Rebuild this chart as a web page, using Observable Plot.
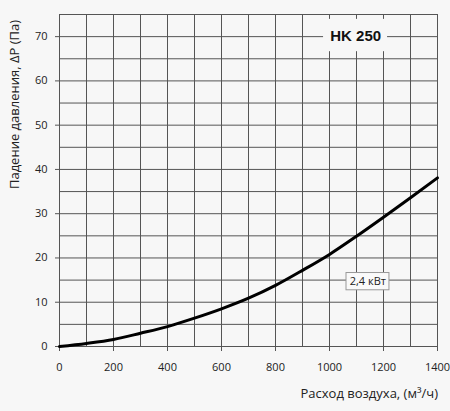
<!DOCTYPE html>
<html>
<head>
<meta charset="utf-8">
<script src="https://cdn.jsdelivr.net/npm/d3@7"></script>
<script src="https://cdn.jsdelivr.net/npm/@observablehq/plot@0.6"></script>
<style>
  html, body { margin: 0; padding: 0; background: #f7f7f7; }
  #chart svg { display: block; }
</style>
</head>
<body>
<div id="chart"></div>
<script>
// Data
const airflow = [0, 100, 200, 300, 400, 500, 600, 700, 800, 900, 1000, 1100, 1200, 1300, 1400];
const pressure = [0, 0.7, 1.6, 3.0, 4.5, 6.4, 8.5, 10.9, 13.8, 17.2, 20.8, 24.9, 29.2, 33.6, 38.1];
const xTicks = [0, 200, 400, 600, 800, 1000, 1200, 1400];
const yTicks = [0, 10, 20, 30, 40, 50, 60, 70];
const xGrid = [0, 100, 200, 300, 400, 500, 600, 700, 800, 900, 1000, 1100, 1200, 1300, 1400];
const yGrid = [0, 5, 10, 15, 20, 25, 30, 35, 40, 45, 50, 55, 60, 65, 70, 75];
const titleLabel = ["HK 250"];
const titleBox = [{x1: 978, x2: 1215, y1: 66.6, y2: 73.9}];
const titlePos = [{x: 1097, y: 70}];
const powerLabel = ["2,4 кВт"];
const powerBox = [{x1: 1063, x2: 1222, y1: 12.7, y2: 16.6}];
const powerPos = [{x: 1142, y: 14.6}];

const data = airflow.map((q, i) => ({q, p: pressure[i]}));
const bg = "#f7f7f7";
const gridColor = "#555";

const chart = Plot.plot({
  width: 450,
  height: 411,
  marginLeft: 59,
  marginRight: 13,
  marginTop: 14,
  marginBottom: 65,
  style: {background: bg, fontFamily: "'Open Sans', sans-serif", fontSize: "11px", color: "#222"},
  x: {domain: [0, 1400], label: null},
  y: {domain: [0, 75], label: null},
  marks: [
    Plot.ruleX(xGrid, {stroke: gridColor, strokeWidth: 1}),
    Plot.ruleY(yGrid, {stroke: gridColor, strokeWidth: 1}),
    Plot.rect(titleBox, {x1: "x1", x2: "x2", y1: "y1", y2: "y2", fill: bg}),
    Plot.text(titlePos, {x: "x", y: "y", text: () => titleLabel[0], fontWeight: "bold", fontSize: 15, fill: "#111", fontFamily: "'Liberation Sans', Arial, sans-serif"}),
    Plot.axisX({ticks: xTicks, tickFormat: d => String(d), tickSize: 5, tickPadding: 12, stroke: gridColor, fill: "#222", fontSize: 11}),
    Plot.axisY({ticks: yTicks, tickFormat: d => String(d), tickSize: 4, tickPadding: 8, stroke: gridColor, fill: "#222", fontSize: 11}),
    Plot.line(data, {x: "q", y: "p", stroke: "#000", strokeWidth: 3, curve: "monotone-x"}),
    Plot.rect(powerBox, {x1: "x1", x2: "x2", y1: "y1", y2: "y2", fill: "#fafafa", stroke: "#999", strokeWidth: 1}),
    Plot.text(powerPos, {x: "x", y: "y", text: () => powerLabel[0], fontSize: 11, fill: "#222"})
  ]
});

const svg = d3.select(chart);
svg.append("text")
  .attr("transform", "translate(19,20) rotate(-90)")
  .attr("text-anchor", "end")
  .attr("font-size", 13)
  .attr("font-family", "'Open Sans', sans-serif")
  .attr("fill", "#222")
  .text("Падение давления, ΔP (Па)");
svg.append("text")
  .attr("x", 438)
  .attr("y", 398)
  .attr("text-anchor", "end")
  .attr("font-size", 13)
  .attr("font-family", "'Open Sans', sans-serif")
  .attr("fill", "#222")
  .text("Расход воздуха, (м³/ч)");

document.getElementById("chart").appendChild(chart);
</script>
</body>
</html>
